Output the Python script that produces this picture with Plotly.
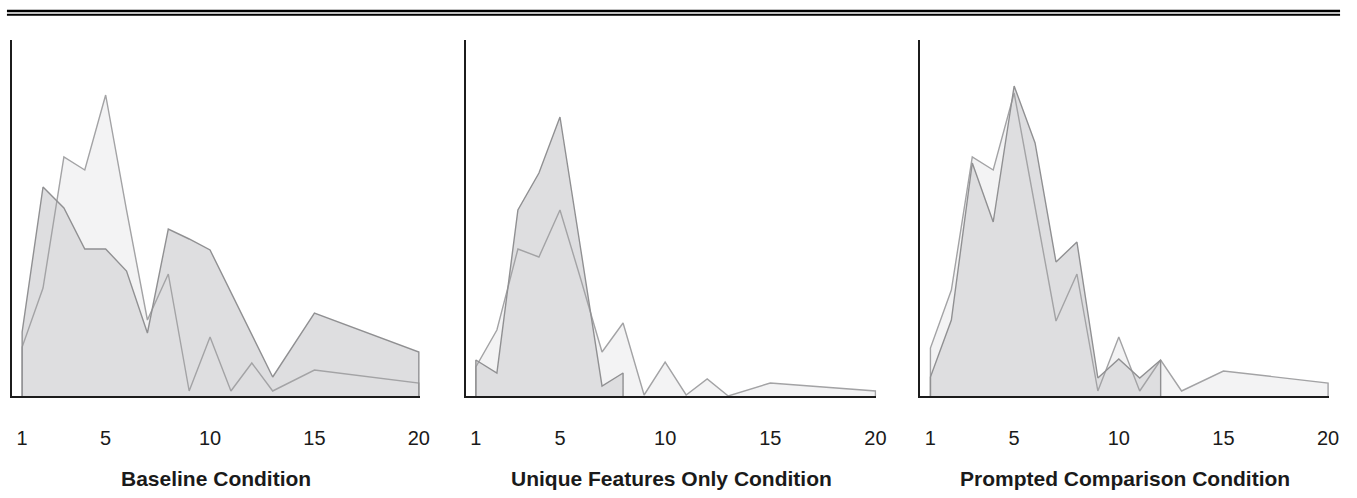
import plotly.graph_objects as go

# ---- data (arbitrary % units) ----
x_vals = [1, 2, 3, 4, 5, 6, 7, 8, 9, 10, 11, 12, 13, 15, 20]
tick_vals = [1, 5, 10, 15, 20]
tick_text = ["1", "5", "10", "15", "20"]

titles = ["Baseline Condition", "Unique Features Only Condition", "Prompted Comparison Condition"]

baseline_dark = [6.4, 20.9, 18.8, 14.7, 14.7, 12.5, 6.3, 16.7, 15.7, 14.6, 10.4, 6.2, 1.9, 8.3, 4.4]
baseline_light = [4.9, 10.8, 23.9, 22.6, 30.1, 18.6, 7.6, 12.2, 0.5, 5.9, 0.5, 3.3, 0.5, 2.6, 1.3]

unique_dark = [3.6, 2.3, 18.6, 22.3, 27.9, 14.5, 1.0, 2.3]
unique_light = [2.9, 6.6, 14.7, 13.9, 18.6, 11.6, 4.4, 7.3, 0.1, 3.4, 0.1, 1.7, 0.0, 1.3, 0.5]

prompted_dark = [1.9, 7.6, 23.3, 17.4, 31.0, 25.3, 13.4, 15.4, 1.8, 3.7, 1.8, 3.6]
prompted_light = [4.8, 10.6, 23.9, 22.6, 30.3, 18.9, 7.5, 12.2, 0.5, 5.9, 0.5, 3.6, 0.5, 2.5, 1.3]

panels = [
    (baseline_light, baseline_dark),
    (unique_light, unique_dark),
    (prompted_light, prompted_dark),
]

LIGHT_FILL = "#f3f3f4"
DARK_FILL = "#dedee0"
LIGHT_LINE = "#a3a3a5"
DARK_LINE = "#909092"
AXIS_COLOR = "#1c1c1c"
FONT = "Liberation Sans, Arial, Helvetica, sans-serif"

W, H = 1357, 498


def px_x(v):
    return v / W


def px_y(v):
    return 1 - v / H


x_domains_px = [(12, 423), (469, 883), (927, 1339)]
y_top_px, y_base_px = 40, 396


def outline(xs, ys):
    """Closed outline of an area series down to the zero baseline."""
    return [xs[0]] + list(xs) + [xs[-1]], [0] + list(ys) + [0]


fig = go.Figure()

for i, (light, dark) in enumerate(panels):
    suffix = "" if i == 0 else str(i + 1)
    xa, ya = "x" + suffix, "y" + suffix
    lx, ly = outline(x_vals[:len(light)], light)
    dx, dy = outline(x_vals[:len(dark)], dark)
    # fills
    fig.add_trace(go.Scatter(x=lx, y=ly, fill="toself", fillcolor=LIGHT_FILL, mode="lines",
                             line=dict(width=0, color=LIGHT_FILL), xaxis=xa, yaxis=ya,
                             showlegend=False, hoverinfo="skip"))
    fig.add_trace(go.Scatter(x=dx, y=dy, fill="toself", fillcolor=DARK_FILL, mode="lines",
                             line=dict(width=0, color=DARK_FILL), xaxis=xa, yaxis=ya,
                             showlegend=False, hoverinfo="skip"))
    # outlines
    fig.add_trace(go.Scatter(x=lx, y=ly, mode="lines", line=dict(width=1.4, color=LIGHT_LINE),
                             xaxis=xa, yaxis=ya, showlegend=False))
    fig.add_trace(go.Scatter(x=dx, y=dy, mode="lines", line=dict(width=1.4, color=DARK_LINE),
                             xaxis=xa, yaxis=ya, showlegend=False))

layout = dict(
    width=W, height=H,
    margin=dict(l=0, r=0, t=0, b=0),
    paper_bgcolor="white", plot_bgcolor="white",
    font=dict(family=FONT, color="#1a1a1a"),
    showlegend=False,
)

y_dom = [px_y(y_base_px), px_y(y_top_px)]
annotations = []
for i, (x0, x1) in enumerate(x_domains_px):
    suffix = "" if i == 0 else str(i + 1)
    layout["xaxis" + suffix] = dict(
        domain=[px_x(x0), px_x(x1)], range=[0.51, 20.05],
        showgrid=False, zeroline=False, showline=True, linecolor=AXIS_COLOR, linewidth=2,
        tickmode="array", tickvals=tick_vals, ticktext=tick_text,
        ticks="outside", ticklen=23, tickcolor="rgba(0,0,0,0)",
        tickfont=dict(size=20, family=FONT, color="#1a1a1a"),
        anchor="y" + suffix, fixedrange=True,
    )
    layout["yaxis" + suffix] = dict(
        domain=y_dom, range=[0, 35.6],
        showgrid=False, zeroline=False, showline=True, linecolor=AXIS_COLOR, linewidth=2,
        showticklabels=False, ticks="", anchor="x" + suffix, fixedrange=True,
    )
    annotations.append(dict(
        text="<b>" + titles[i] + "</b>", x=px_x((x0 + x1) / 2), y=px_y(478),
        xref="paper", yref="paper", showarrow=False, xanchor="center", yanchor="middle",
        font=dict(size=21, family=FONT, color="#1a1a1a"),
    ))

layout["annotations"] = annotations
layout["shapes"] = [
    dict(type="line", xref="paper", yref="paper", x0=px_x(7), x1=px_x(1350),
         y0=px_y(11), y1=px_y(11), line=dict(color="#000000", width=2.7)),
    dict(type="line", xref="paper", yref="paper", x0=px_x(7), x1=px_x(1350),
         y0=px_y(14.7), y1=px_y(14.7), line=dict(color="#000000", width=2)),
]

fig.update_layout(**layout)

# Remove the page's default body margin / scrollbars so the figure sits at (0, 0).
page_fix = (
    "document.documentElement.style.margin='0';"
    "document.documentElement.style.overflow='hidden';"
    "document.body.style.margin='0';"
    "document.body.style.overflow='hidden';"
)
fig.write_html("out.html", post_script=page_fix,
               config={"displayModeBar": False, "staticPlot": True})
